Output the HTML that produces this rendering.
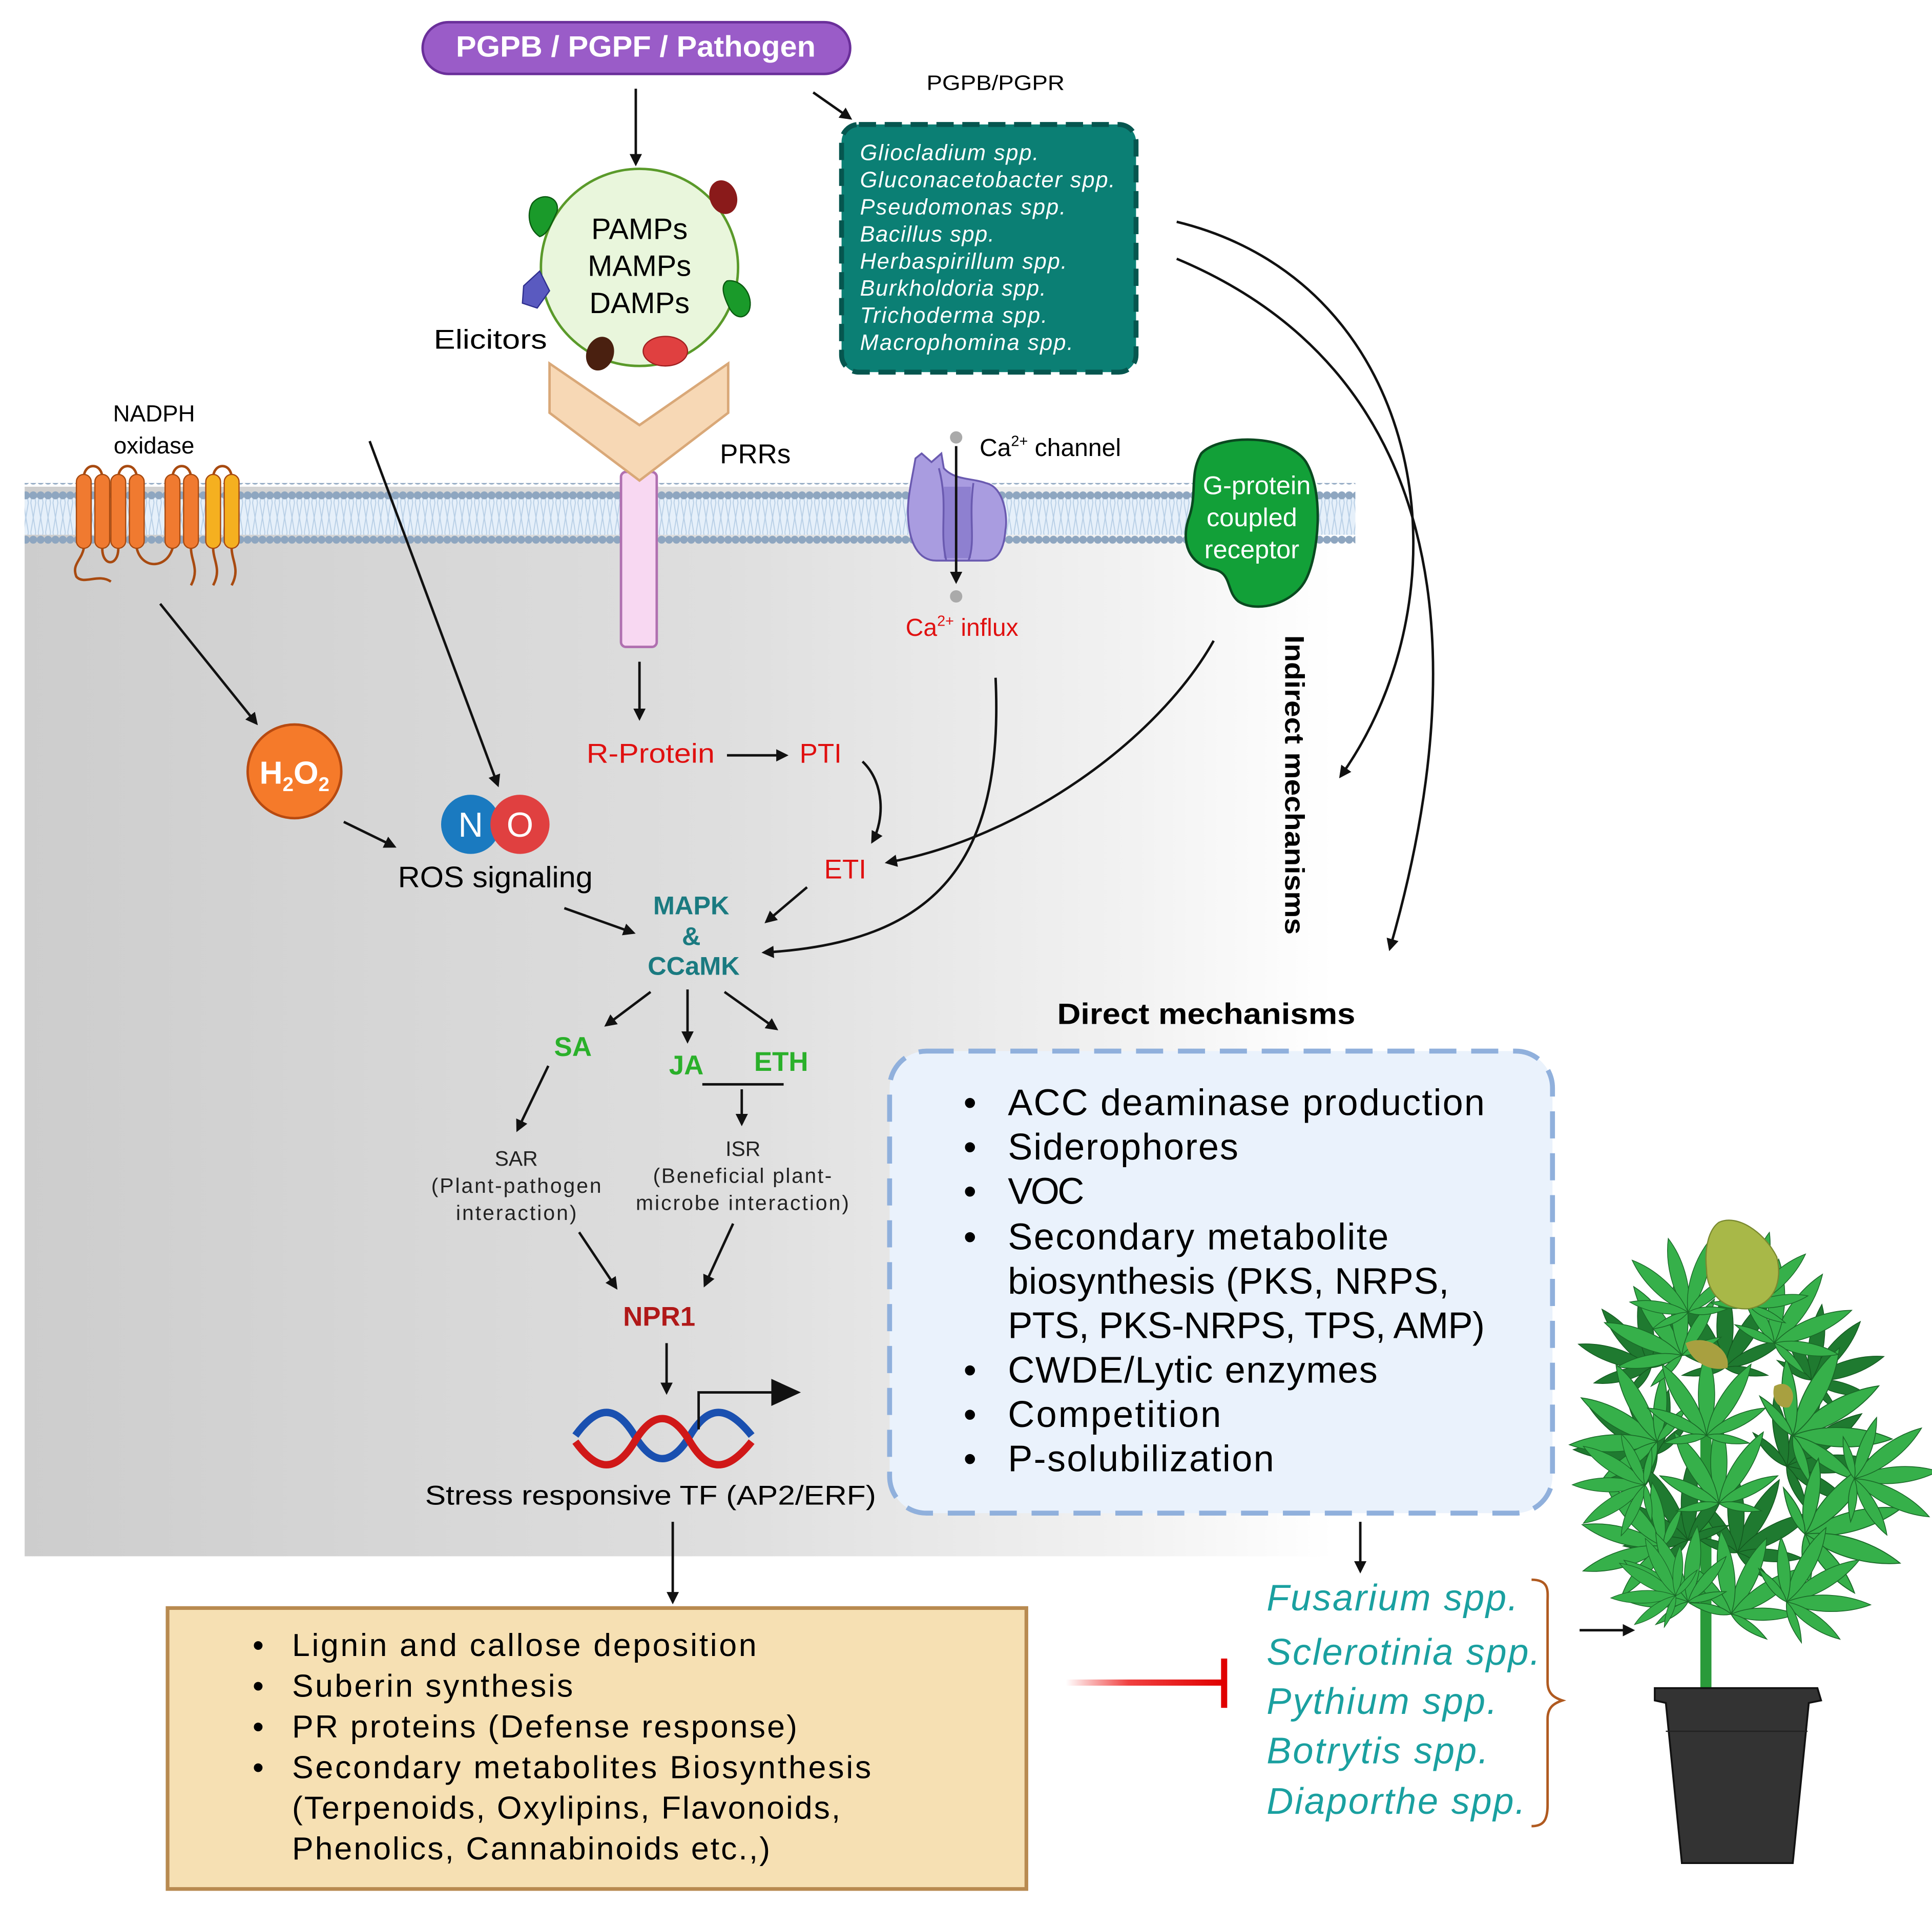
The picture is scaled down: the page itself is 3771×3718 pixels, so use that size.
<!DOCTYPE html>
<html><head><meta charset="utf-8"><style>
html,body{margin:0;padding:0;background:#fff;}
svg{display:block;}
text{font-family:"Liberation Sans",sans-serif;}
</style></head><body>
<svg width="3771" height="3718" viewBox="0 0 1568 1546" preserveAspectRatio="none" xmlns="http://www.w3.org/2000/svg">
<defs>
<linearGradient id="cell" x1="0" x2="1" y1="0" y2="0">
<stop offset="0" stop-color="#cdcdcd"/><stop offset="0.45" stop-color="#dedede"/><stop offset="0.72" stop-color="#f2f2f2"/><stop offset="0.85" stop-color="#ffffff"/>
</linearGradient>
<linearGradient id="inh" x1="0" x2="1"><stop offset="0" stop-color="#ffffff"/><stop offset="0.4" stop-color="#f04040"/><stop offset="1" stop-color="#e00000"/></linearGradient>
<pattern id="heads" width="6" height="12" patternUnits="userSpaceOnUse"><circle cx="3" cy="6" r="3.2" fill="#8ea6c0"/></pattern>
<pattern id="tails" width="6" height="24" patternUnits="userSpaceOnUse"><rect width="6" height="24" fill="#e6f0fa"/><path d="M1 0 L3 12 L1 24 M5 0 L3 12 L5 24" stroke="#b8cfe6" stroke-width="0.8" fill="none"/></pattern>
<marker id="ah" viewBox="0 0 10 10" refX="8" refY="5" markerWidth="5" markerHeight="5" orient="auto"><path d="M0 0 L10 5 L0 10 z" fill="#111"/></marker>
<g id="leaf">
<path d="M0 0 C-9 -20 -7 -45 0 -62 C7 -45 9 -20 0 0z"/>
<path d="M0 0 C-9 -20 -7 -45 0 -62 C7 -45 9 -20 0 0z" transform="rotate(-32)"/>
<path d="M0 0 C-9 -20 -7 -45 0 -62 C7 -45 9 -20 0 0z" transform="rotate(32)"/>
<path d="M0 0 C-7 -16 -5 -35 0 -48 C5 -35 7 -16 0 0z" transform="rotate(-65)"/>
<path d="M0 0 C-7 -16 -5 -35 0 -48 C5 -35 7 -16 0 0z" transform="rotate(65)"/>
<path d="M0 0 C-5 -10 -3 -22 0 -32 C3 -22 5 -10 0 0z" transform="rotate(-100)"/>
<path d="M0 0 C-5 -10 -3 -22 0 -32 C3 -22 5 -10 0 0z" transform="rotate(100)"/>
</g>
</defs>

<rect x="20" y="395" width="1250" height="868" fill="url(#cell)"/>
<rect x="20" y="404" width="1080" height="30" fill="url(#tails)"/>
<rect x="20" y="392" width="1080" height="14" fill="url(#heads)"/>
<rect x="20" y="430" width="1080" height="12" fill="url(#heads)"/>

<text x="125" y="342" font-size="19" text-anchor="middle">NADPH</text>
<text x="125" y="368" font-size="19" text-anchor="middle">oxidase</text>
<g fill="none" stroke="#a84a10" stroke-width="2">
<path d="M68 388 C68 375 83 375 83 388 M96 388 C96 375 111 375 111 388 M140 388 C140 375 155 375 155 388 M173 388 C173 375 188 375 188 388"/>
<path d="M83 445 C83 460 96 460 96 445 M111 445 C115 462 135 462 140 445"/>
<path d="M68 445 C66 455 58 458 62 468 C68 475 80 465 90 472 M155 445 C155 455 162 462 155 475 M173 445 C173 455 180 462 173 475 M188 445 C188 455 195 462 188 475"/>
</g>
<g stroke="#a84a10" stroke-width="1">
<rect x="62" y="385" width="12" height="60" rx="6" fill="#f07a30"/>
<rect x="77" y="385" width="12" height="60" rx="6" fill="#f07a30"/>
<rect x="90" y="385" width="12" height="60" rx="6" fill="#f07a30"/>
<rect x="105" y="385" width="12" height="60" rx="6" fill="#f07a30"/>
<rect x="134" y="385" width="12" height="60" rx="6" fill="#f07a30"/>
<rect x="149" y="385" width="12" height="60" rx="6" fill="#f07a30"/>
<rect x="167" y="385" width="12" height="60" rx="6" fill="#f5b020"/>
<rect x="182" y="385" width="12" height="60" rx="6" fill="#f5b020"/>
</g>

<rect x="343" y="18" width="347" height="42" rx="21" fill="#9a5cc8" stroke="#6a2f9a" stroke-width="2"/>
<text x="370" y="46" font-size="24" font-weight="bold" fill="#fff" textLength="292" lengthAdjust="spacingAndGlyphs">PGPB / PGPF / Pathogen</text>
<line x1="516" y1="72" x2="516" y2="133" stroke="#111" stroke-width="2" marker-end="url(#ah)"/>
<line x1="660" y1="75" x2="690" y2="96" stroke="#111" stroke-width="2" marker-end="url(#ah)"/>
<text x="752" y="73" font-size="17" textLength="112" lengthAdjust="spacingAndGlyphs">PGPB/PGPR</text>

<rect x="683" y="101" width="239" height="201" rx="14" fill="#0b7f74" stroke="#06564f" stroke-width="4" stroke-dasharray="14 7"/>
<g font-size="18" font-style="italic" fill="#fff" lengthAdjust="spacingAndGlyphs">
<text x="698" y="130" textLength="145">Gliocladium spp.</text>
<text x="698" y="152" textLength="207">Gluconacetobacter spp.</text>
<text x="698" y="174" textLength="167">Pseudomonas spp.</text>
<text x="698" y="196" textLength="109">Bacillus spp.</text>
<text x="698" y="218" textLength="168">Herbaspirillum spp.</text>
<text x="698" y="240" textLength="151">Burkholdoria spp.</text>
<text x="698" y="262" textLength="152">Trichoderma spp.</text>
<text x="698" y="284" textLength="173">Macrophomina spp.</text>
</g>

<circle cx="519" cy="217" r="80" fill="#e9f6dc" stroke="#5a9a2a" stroke-width="2"/>
<g font-size="24" text-anchor="middle"><text x="519" y="194">PAMPs</text><text x="519" y="224">MAMPs</text><text x="519" y="254">DAMPs</text></g>
<path d="M432 165 C440 155 455 160 452 172 C448 180 445 190 438 192 C428 185 428 172 432 165z" fill="#1a9a2a" stroke="#0a5a10"/>
<path d="M590 228 C602 226 612 240 608 252 C604 260 596 258 592 250 C588 242 584 232 590 228z" fill="#1a9a2a" stroke="#0a5a10"/>
<ellipse cx="587" cy="160" rx="11" ry="14" fill="#8a1a1a" transform="rotate(-20 587 160)"/>
<path d="M425 232 L438 220 L446 236 L436 250 L424 246z" fill="#5a5ac0" stroke="#303090"/>
<ellipse cx="487" cy="287" rx="11" ry="14" fill="#4a2010" transform="rotate(20 487 287)"/>
<ellipse cx="540" cy="285" rx="18" ry="12" fill="#e04040" stroke="#a02020"/>
<text x="352" y="283" font-size="22" textLength="92" lengthAdjust="spacingAndGlyphs">Elicitors</text>

<rect x="504" y="383" width="29" height="142" rx="4" fill="#f8d8f2" stroke="#b070b0" stroke-width="2"/>
<polygon points="446,295 519,345 591,295 591,335 519,390 446,335" fill="#f7d8b5" stroke="#d9a878" stroke-width="2"/>
<text x="613" y="376" font-size="22" text-anchor="middle">PRRs</text>

<path d="M743 372 L748 368 L756 375 L764 368 L766 380 C775 390 790 388 800 392 C815 395 818 420 816 430 C815 445 810 455 800 455 L760 455 C745 455 738 440 737 420 C736 405 740 390 743 372z" fill="#a99ce0" stroke="#6a5ab0" stroke-width="1.5"/>
<rect x="766" y="395" width="22" height="58" fill="#8e80d0"/>
<path d="M762 380 C770 410 762 430 768 455 M790 392 C786 420 792 440 786 455" stroke="#6a5ab0" fill="none" stroke-width="1.5"/>
<circle cx="776" cy="355" r="5" fill="#aaa"/><circle cx="776" cy="484" r="5" fill="#aaa"/>
<line x1="776" y1="362" x2="776" y2="472" stroke="#111" stroke-width="2" marker-end="url(#ah)"/>
<text x="795" y="370" font-size="20">Ca<tspan font-size="12" dy="-8">2+</tspan><tspan dy="8"> channel</tspan></text>
<text x="735" y="516" font-size="20" fill="#e01010">Ca<tspan font-size="12" dy="-8">2+</tspan><tspan dy="8"> influx</tspan></text>

<path d="M975 368 C990 352 1045 352 1060 375 C1075 400 1070 450 1060 470 C1050 490 1020 498 1005 488 C995 480 1000 465 985 462 C965 458 958 440 965 420 C972 400 965 385 975 368z" fill="#12a038" stroke="#0a4a20" stroke-width="2"/>
<g font-size="21" fill="#fff" text-anchor="middle"><text x="1020" y="401">G-protein</text><text x="1016" y="427">coupled</text><text x="1016" y="453">receptor</text></g>

<g stroke="#111" stroke-width="2" fill="none" marker-end="url(#ah)">
<line x1="130" y1="490" x2="208" y2="587"/>
<line x1="300" y1="358" x2="404" y2="637"/>
<line x1="279" y1="667" x2="320" y2="687"/>
<line x1="519" y1="537" x2="519" y2="583"/>
<line x1="590" y1="613" x2="638" y2="613"/>
<path d="M700 618 C718 635 718 665 708 683"/>
<path d="M985 520 C940 600 830 680 720 700"/>
<path d="M808 550 C815 700 760 765 620 773"/>
<line x1="655" y1="720" x2="622" y2="748"/>
<line x1="458" y1="737" x2="514" y2="757"/>
<line x1="528" y1="805" x2="492" y2="832"/>
<line x1="558" y1="803" x2="558" y2="845"/>
<line x1="588" y1="805" x2="630" y2="835"/>
<line x1="602" y1="884" x2="602" y2="912"/>
<line x1="445" y1="865" x2="420" y2="917"/>
<line x1="470" y1="1000" x2="500" y2="1045"/>
<line x1="595" y1="993" x2="572" y2="1043"/>
<line x1="541" y1="1090" x2="541" y2="1130"/>
<line x1="546" y1="1235" x2="546" y2="1300"/>
<line x1="1104" y1="1235" x2="1104" y2="1275"/>
<path d="M955 180 C1160 230 1195 480 1088 630"/>
<path d="M955 210 C1170 300 1200 520 1128 770"/>
</g>
<line x1="570" y1="880" x2="636" y2="880" stroke="#111" stroke-width="2"/>

<circle cx="239" cy="626" r="38" fill="#f57a2a" stroke="#b84a10" stroke-width="2"/>
<text x="239" y="636" font-size="26" font-weight="bold" fill="#fff" text-anchor="middle">H<tspan font-size="16" dy="6">2</tspan><tspan dy="-6">O</tspan><tspan font-size="16" dy="6">2</tspan></text>
<circle cx="382" cy="669" r="24" fill="#1a7ac0"/>
<circle cx="422" cy="669" r="24" fill="#e04040"/>
<text x="382" y="679" font-size="28" fill="#fff" text-anchor="middle">N</text>
<text x="422" y="679" font-size="28" fill="#fff" text-anchor="middle">O</text>
<text x="323" y="720" font-size="24" textLength="158" lengthAdjust="spacingAndGlyphs">ROS signaling</text>

<text x="476" y="619" font-size="22" fill="#e01010" textLength="104" lengthAdjust="spacingAndGlyphs">R-Protein</text>
<text x="666" y="619" font-size="22" fill="#e01010" text-anchor="middle">PTI</text>
<text x="686" y="713" font-size="22" fill="#e01010" text-anchor="middle">ETI</text>
<g font-size="21" font-weight="bold" fill="#1a7a80" text-anchor="middle"><text x="561" y="742">MAPK</text><text x="561" y="767">&amp;</text><text x="563" y="791">CCaMK</text></g>
<g font-size="22" font-weight="bold" fill="#2ab02a" text-anchor="middle"><text x="465" y="857">SA</text><text x="557" y="872">JA</text><text x="634" y="869">ETH</text></g>
<g font-size="17" fill="#222" lengthAdjust="spacingAndGlyphs">
<text x="419" y="946" text-anchor="middle">SAR</text><text x="350" y="968" textLength="138">(Plant-pathogen</text><text x="370" y="990" textLength="98">interaction)</text>
<text x="603" y="938" text-anchor="middle">ISR</text><text x="530" y="960" textLength="145">(Beneficial plant-</text><text x="516" y="982" textLength="173">microbe interaction)</text>
</g>
<text x="535" y="1076" font-size="22" font-weight="bold" fill="#b01818" text-anchor="middle">NPR1</text>

<path d="M467 1165 C485 1140 500 1140 515 1165 C530 1190 545 1190 560 1165 C575 1140 590 1140 610 1165" stroke="#1a50b0" stroke-width="6" fill="none"/>
<path d="M467 1170 C485 1195 500 1195 515 1170 C530 1145 545 1145 560 1170 C575 1195 590 1195 610 1170" stroke="#d01818" stroke-width="6" fill="none"/>
<path d="M567 1160 L567 1130 L628 1130" stroke="#111" stroke-width="2" fill="none"/>
<path d="M626 1119 L650 1130 L626 1141z" fill="#111"/>
<text x="345" y="1221" font-size="22" textLength="366" lengthAdjust="spacingAndGlyphs">Stress responsive TF (AP2/ERF)</text>

<rect x="136" y="1305" width="697" height="228" fill="#f6e0b3" stroke="#b88a50" stroke-width="3"/>
<g font-size="26" lengthAdjust="spacingAndGlyphs">
<text x="205" y="1344">•</text><text x="237" y="1344" textLength="377">Lignin and callose deposition</text>
<text x="205" y="1377">•</text><text x="237" y="1377" textLength="228">Suberin synthesis</text>
<text x="205" y="1410">•</text><text x="237" y="1410" textLength="410">PR proteins (Defense response)</text>
<text x="205" y="1443">•</text><text x="237" y="1443" textLength="470">Secondary metabolites Biosynthesis</text>
<text x="237" y="1476" textLength="445">(Terpenoids, Oxylipins, Flavonoids,</text>
<text x="237" y="1509" textLength="388">Phenolics, Cannabinoids etc.,)</text>
</g>
<rect x="865" y="1363" width="128" height="5" fill="url(#inh)"/>
<rect x="991" y="1346" width="5" height="40" fill="#e00000"/>

<text x="858" y="831" font-size="24" font-weight="bold" textLength="242" lengthAdjust="spacingAndGlyphs">Direct mechanisms</text>
<rect x="722" y="853" width="538" height="375" rx="30" fill="#eaf2fc" stroke="#90b0dc" stroke-width="4" stroke-dasharray="22 12"/>
<g font-size="30" lengthAdjust="spacingAndGlyphs">
<text x="782" y="905">•</text><text x="818" y="905" textLength="387">ACC deaminase production</text>
<text x="782" y="941">•</text><text x="818" y="941" textLength="187">Siderophores</text>
<text x="782" y="977">•</text><text x="818" y="977" textLength="62">VOC</text>
<text x="782" y="1014">•</text><text x="818" y="1014" textLength="309">Secondary metabolite</text>
<text x="818" y="1050" textLength="358">biosynthesis (PKS, NRPS,</text>
<text x="818" y="1086" textLength="387">PTS, PKS-NRPS, TPS, AMP)</text>
<text x="782" y="1122">•</text><text x="818" y="1122" textLength="300">CWDE/Lytic enzymes</text>
<text x="782" y="1158">•</text><text x="818" y="1158" textLength="173">Competition</text>
<text x="782" y="1194">•</text><text x="818" y="1194" textLength="216">P-solubilization</text>
</g>
<text transform="translate(1043 637) rotate(90)" font-size="22" font-weight="bold" text-anchor="middle" textLength="243" lengthAdjust="spacingAndGlyphs">Indirect mechanisms</text>

<g font-size="30" font-style="italic" fill="#1aa0a0" lengthAdjust="spacingAndGlyphs">
<text x="1028" y="1307" textLength="204">Fusarium spp.</text>
<text x="1028" y="1351" textLength="222">Sclerotinia spp.</text>
<text x="1028" y="1391" textLength="187">Pythium spp.</text>
<text x="1028" y="1431" textLength="180">Botrytis spp.</text>
<text x="1028" y="1472" textLength="210">Diaporthe spp.</text>
</g>
<path d="M1243 1282 C1258 1282 1256 1292 1256 1300 L1256 1365 C1256 1375 1262 1378 1268 1380 C1262 1382 1256 1385 1256 1395 L1256 1465 C1256 1478 1252 1482 1243 1482" stroke="#b05a20" stroke-width="2" fill="none"/>

<!-- plant -->
<rect x="1380" y="1150" width="9" height="225" fill="#2a9a3a"/>
<g fill="#1f7a30" stroke="#145a20" stroke-width="0.6">
<use href="#leaf" transform="translate(1400 1110) scale(1.1)"/>
<use href="#leaf" transform="translate(1345 1180) rotate(-55) scale(1.1)"/>
<use href="#leaf" transform="translate(1450 1190) rotate(55) scale(1.2)"/>
<use href="#leaf" transform="translate(1410 1260) rotate(30) scale(1.1)"/>
<use href="#leaf" transform="translate(1370 1250) rotate(-30) scale(1.1)"/>
<use href="#leaf" transform="translate(1470 1120) rotate(40)"/>
<use href="#leaf" transform="translate(1340 1110) rotate(-40)"/>
</g>
<g fill="#36b04a" stroke="#1a6a28" stroke-width="0.6">
<use href="#leaf" transform="translate(1345 1170) rotate(-60) scale(1.15)"/>
<use href="#leaf" transform="translate(1455 1165) rotate(60) scale(1.3)"/>
<use href="#leaf" transform="translate(1350 1255) rotate(-75) scale(1.1)"/>
<use href="#leaf" transform="translate(1465 1245) rotate(75) scale(1.3)"/>
<use href="#leaf" transform="translate(1365 1100) rotate(-35) scale(1.1)"/>
<use href="#leaf" transform="translate(1440 1090) rotate(35) scale(1.1)"/>
<use href="#leaf" transform="translate(1335 1205) rotate(-90) scale(0.95)"/>
<use href="#leaf" transform="translate(1505 1200) rotate(85) scale(1.1)"/>
<use href="#leaf" transform="translate(1395 1220) scale(1.1)"/>
<use href="#leaf" transform="translate(1385 1165) scale(1.1)"/>
<use href="#leaf" transform="translate(1405 1310) rotate(25) scale(1.1)"/>
<use href="#leaf" transform="translate(1370 1300) rotate(-25) scale(1.0)"/>
<use href="#leaf" transform="translate(1420 1060) rotate(15)"/>
<use href="#leaf" transform="translate(1370 1065) rotate(-15)"/>
<use href="#leaf" transform="translate(1360 1295) rotate(-60) scale(0.85)"/>
<use href="#leaf" transform="translate(1450 1300) rotate(60) scale(1.1)"/>
</g>
<path d="M1395 992 C1410 985 1432 1000 1442 1020 C1447 1040 1440 1058 1420 1062 C1400 1064 1385 1050 1385 1030 C1383 1010 1388 997 1395 992z" fill="#a8b848" stroke="#7a8a30"/>
<path d="M1368 1090 C1385 1082 1405 1095 1402 1110 C1388 1114 1372 1105 1368 1090z" fill="#a8a040"/>
<path d="M1440 1125 C1452 1118 1460 1132 1452 1142 C1444 1144 1437 1136 1440 1125z" fill="#a8a040"/>
<path d="M1343 1370 L1475 1370 L1478 1380 L1468 1382 L1455 1512 L1365 1512 L1352 1382 L1343 1380z" fill="#333" stroke="#111" stroke-width="1.5"/>
<line x1="1352" y1="1405" x2="1467" y2="1405" stroke="#222"/>
<line x1="1282" y1="1323" x2="1325" y2="1323" stroke="#111" stroke-width="2" marker-end="url(#ah)"/>
</svg>
</body></html>
